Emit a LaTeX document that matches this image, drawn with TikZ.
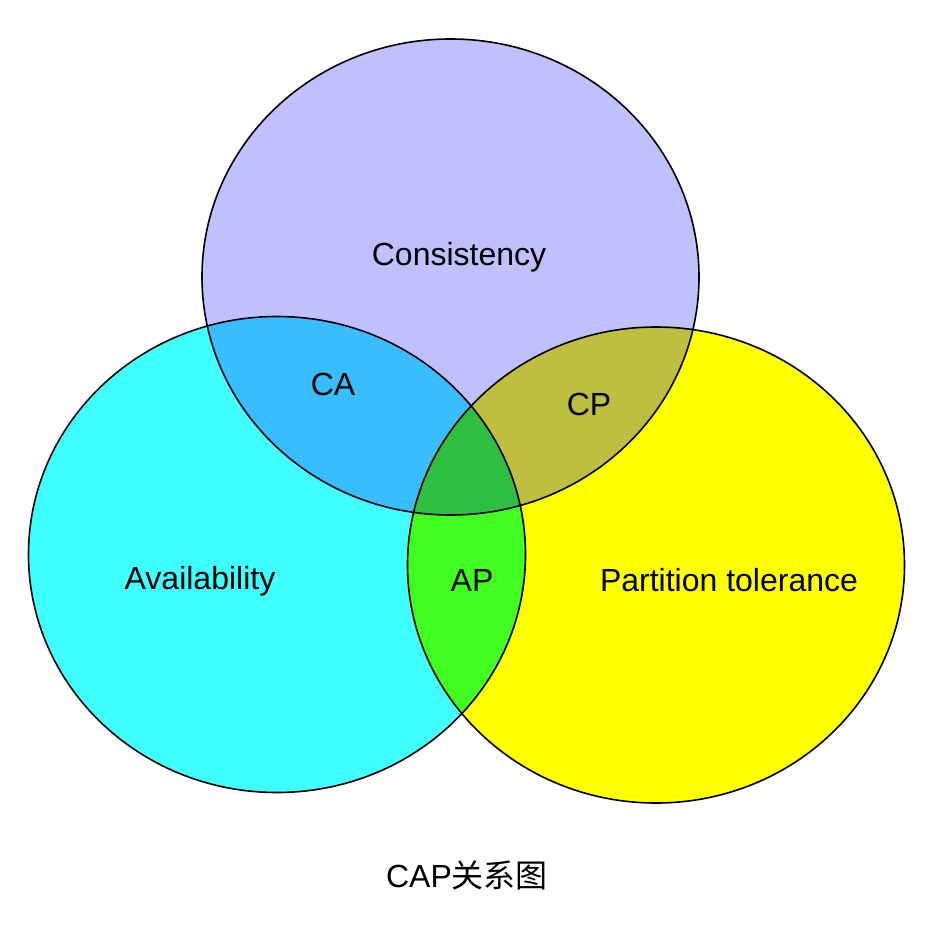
\documentclass[tikz,border=0pt]{standalone}
\usepackage{fontspec}
\setmainfont{Liberation Sans}
\newfontfamily\cjkfont{Noto Sans CJK SC}
\usetikzlibrary{positioning}
\definecolor{consviolet}{HTML}{C0C0FF}
\definecolor{availcyan}{HTML}{40FFFF}
\definecolor{partyellow}{HTML}{FFFF00}
\definecolor{cablue}{HTML}{38BEFF}
\definecolor{cpolive}{HTML}{BEBE40}
\definecolor{apgreen}{HTML}{40FF20}
\definecolor{capgreen}{HTML}{30BE40}

\newcommand{\setC}{(450.5,277) ellipse (248.5 and 238)}
\newcommand{\setA}{(277,554.5) ellipse (248.5 and 238)}
\newcommand{\setP}{(656,565) ellipse (248.5 and 238)}

\begin{document}
\begin{tikzpicture}[x=1pt, y=-1pt,
    label text/.style={text=black, font=\fontsize{32}{32}\selectfont},
    set edge/.style={draw=black, line width=1.6pt}]
  \useasboundingbox (0,0) rectangle (936,942);
  \fill[white] (0,0) rectangle (936,942);

  % Three sets
  \fill[availcyan] \setA;
  \fill[partyellow] \setP;
  \fill[consviolet] \setC;

  % Pairwise overlaps
  \begin{scope}
    \clip \setC;
    \fill[cablue] \setA;
    \fill[cpolive] \setP;
  \end{scope}
  \begin{scope}
    \clip \setA;
    \fill[apgreen] \setP;
  \end{scope}

  % Centre: all three
  \begin{scope}
    \clip \setC;
    \clip \setA;
    \fill[capgreen] \setP;
  \end{scope}

  % Outlines
  \draw[set edge] \setA;
  \draw[set edge] \setP;
  \draw[set edge] \setC;

  \node[label text] (cons) at (459,257) {Consistency};
  \node[label text] (avail) at (200,581) {Availability};
  \node[label text] (part) at (729,580) {Partition tolerance};
  \node[label text] (ca) at (333,384) {CA};
  \node[label text] (cp) at (589,404) {CP};
  \node[label text] (ap) at (472,580) {AP};
  \node[label text] (title) at (467,875) {CAP{\cjkfont 关系图}};
\end{tikzpicture}
\end{document}
